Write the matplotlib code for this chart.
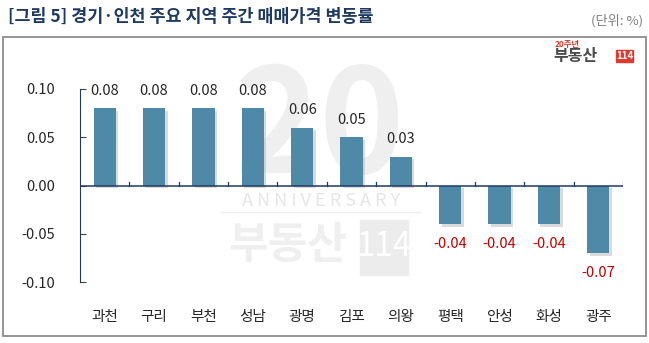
import matplotlib.pyplot as plt
import matplotlib.patheffects as pe
from matplotlib.patches import Rectangle
import numpy as np

plt.rcParams['font.family'] = ['Noto Sans CJK KR', 'DejaVu Sans']

regions = ['과천', '구리', '부천', '성남', '광명', '김포', '의왕', '평택', '안성', '화성', '광주']
values = [0.08, 0.08, 0.08, 0.08, 0.06, 0.05, 0.03, -0.04, -0.04, -0.04, -0.07]
yticks = [-0.10, -0.05, 0.00, 0.05, 0.10]

bar_color = '#4e8aa7'
neg_color = '#c00000'
navy = '#1f3a5f'

fig = plt.figure(figsize=(6.49, 3.43), dpi=100)
W, H = 649, 343


def fx(px):
    return px / W


def fy(py):
    return 1 - py / H


# 바깥 테두리
fig.patches.append(Rectangle((fx(3), fy(336)), fx(643), (333 - 34) / H,
                             transform=fig.transFigure, fill=False,
                             edgecolor='#8c8c8c', linewidth=1.3))

# 제목, 단위
fig.text(fx(8), fy(17), '[그림 5] 경기·인천 주요 지역 주간 매매가격 변동률',
         fontsize=12.5, fontweight='bold', color=navy, va='center', ha='left')
fig.text(fx(643), fy(21), '(단위: %)', fontsize=9.5, color='#7f7f7f',
         va='center', ha='right')

# 로고
fig.text(fx(555), fy(45), '20주년', fontsize=6, color='#e03a2f',
         fontweight='bold', va='center', ha='left')
fig.text(fx(553), fy(56), '부동산', fontsize=11.5, color='#4a4a4a',
         fontweight='heavy', va='center', ha='left')
fig.patches.append(Rectangle((fx(616), fy(62)), fx(17), 12 / H,
                             transform=fig.transFigure, color='#e03a2f'))
fig.text(fx(624.5), fy(56), '114', fontsize=7, color='white',
         fontweight='bold', va='center', ha='center')

# 20주년 워터마크
wm = '#efefef'
fig.text(fx(320), fy(131), '20', fontsize=104, color=wm, fontweight='heavy',
         va='center', ha='center', zorder=-1)
fig.text(fx(321), fy(201), 'A N N I V E R S A R Y', fontsize=13,
         color='#e6e6e6', va='center', ha='center', zorder=-1)
fig.add_artist(plt.Line2D([fx(222), fx(420)], [fy(212), fy(212)],
                          color='#ececec', linewidth=1, zorder=-1))
fig.text(fx(288), fy(245), '부동산', fontsize=31, color=wm, fontweight='heavy',
         va='center', ha='center', zorder=-1)
fig.patches.append(Rectangle((fx(360), fy(275)), fx(48), 55 / H,
                             transform=fig.transFigure, color='#ececec', zorder=-1))
fig.text(fx(384), fy(247), '114', fontsize=24, color='white',
         va='center', ha='center', zorder=-1)

ax = fig.add_axes([fx(80), fy(282), fx(543), (282 - 89) / H])
ax.patch.set_alpha(0)
ax.set_zorder(1)

x = np.arange(len(regions))
bars = ax.bar(x, values, width=0.45, color=bar_color, zorder=3)
for b in bars:
    b.set_path_effects([pe.SimplePatchShadow(offset=(1.8, -1.8),
                                             shadow_rgbFace='#9a9a9a', alpha=0.35),
                        pe.Normal()])

for xi, v in zip(x, values):
    if v >= 0:
        ax.annotate(f'{v:.2f}', (xi, v), xytext=(0, 7.5), textcoords='offset points',
                    ha='center', va='bottom', fontsize=10.5, color='#262626')
    else:
        ax.annotate(f'{v:.2f}', (xi, v), xytext=(0, -9), textcoords='offset points',
                    ha='center', va='top', fontsize=10.5, color=neg_color)

ax.set_xlim(-0.5, len(regions) - 0.5)
ax.set_ylim(-0.10, 0.10)
for s in ['top', 'right', 'bottom']:
    ax.spines[s].set_visible(False)
ax.spines['left'].set_color(navy)
ax.axhline(0, color=navy, linewidth=1.1, zorder=4)

ax.set_yticks(yticks)
ax.set_yticklabels([f'{t:.2f}' for t in yticks])
ax.tick_params(axis='y', direction='in', length=4, color='#404040',
               labelsize=10.5, labelcolor='#262626', pad=18)

ax.set_xticks(x)
ax.set_xticklabels(regions)
ax.tick_params(axis='x', length=0, labelsize=10.5, labelcolor='#262626', pad=20)

# 범주 경계 눈금 (0 기준선 위)
for b in np.arange(len(regions)) + 0.5:
    ax.plot([b, b], [0, 0.004], color=navy, linewidth=0.9, zorder=4)

fig.savefig('out.png', dpi=100)
